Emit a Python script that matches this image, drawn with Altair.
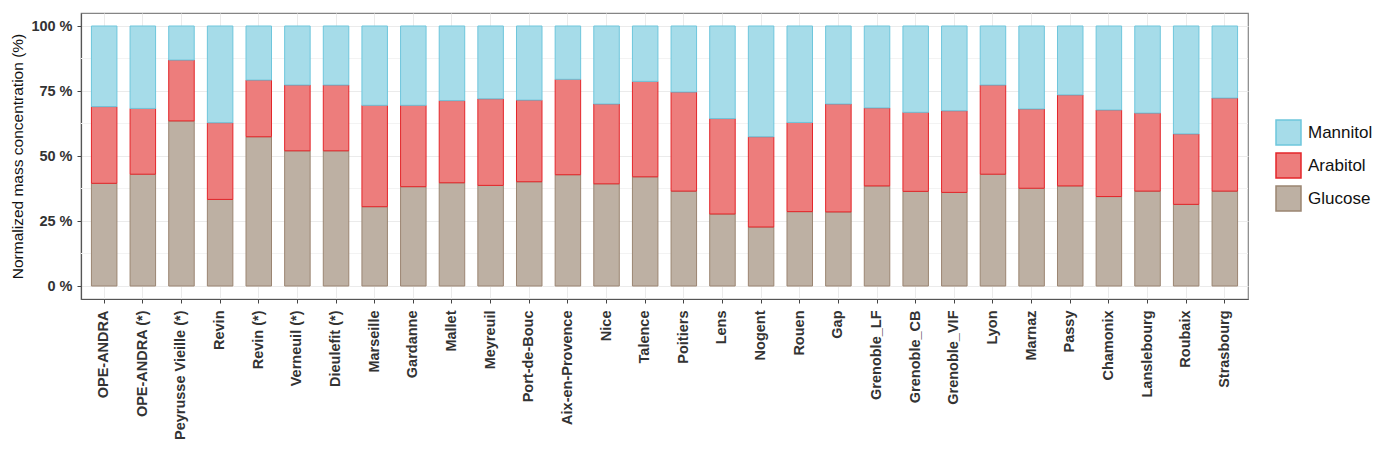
import altair as alt
import pandas as pd

sites = ["OPE-ANDRA", "OPE-ANDRA (*)", "Peyrusse Vieille (*)", "Revin", "Revin (*)",
         "Verneuil (*)", "Dieulefit (*)", "Marseille", "Gardanne", "Mallet", "Meyreuil",
         "Port-de-Bouc", "Aix-en-Provence", "Nice", "Talence", "Poitiers", "Lens", "Nogent",
         "Rouen", "Gap", "Grenoble_LF", "Grenoble_CB", "Grenoble_VIF", "Lyon", "Marnaz",
         "Passy", "Chamonix", "Lanslebourg", "Roubaix", "Strasbourg"]

glucose = [39.5, 43.0, 63.5, 33.3, 57.4, 52.0, 52.0, 30.5, 38.2, 39.7, 38.7, 40.1, 42.8, 39.3,
           42.0, 36.5, 27.7, 22.7, 28.6, 28.5, 38.5, 36.4, 36.0, 43.0, 37.6, 38.5, 34.4, 36.5,
           31.4, 36.5]
arabitol = [29.5, 25.3, 23.4, 29.5, 21.8, 25.3, 25.3, 39.0, 31.3, 31.6, 33.3, 31.4, 36.7, 30.7,
            36.7, 38.1, 36.7, 34.7, 34.3, 41.5, 30.0, 30.4, 31.4, 34.3, 30.5, 35.0, 33.3, 30.0,
            27.1, 35.8]
mannitol = [round(100 - g - a, 1) for g, a in zip(glucose, arabitol)]

compounds = ["Mannitol", "Arabitol", "Glucose"]
fills = ["#a6dce9", "#ed7d7c", "#bdb0a3"]
strokes = ["#6ec6dc", "#e3262a", "#9b8572"]
stack_order = {"Glucose": 0, "Arabitol": 1, "Mannitol": 2}

y_ticks = [0, 25, 50, 75, 100]
y_minor = [12.5, 37.5, 62.5, 87.5]

rows = []
for name, series in [("Glucose", glucose), ("Arabitol", arabitol), ("Mannitol", mannitol)]:
    for s, v in zip(sites, series):
        rows.append({"site": s, "compound": name, "value": v, "ord": stack_order[name]})
df = pd.DataFrame(rows)
minor_df = pd.DataFrame({"v": y_minor})

FONT = "Liberation Sans"
YTITLE = "Normalized mass concentration (%)"
yscale = alt.Scale(domain=[-5, 105], nice=False, zero=False)
y_axis = alt.Axis(values=y_ticks, labelExpr="datum.value + ' %'",
                  labelFont=FONT, labelFontSize=14.5, labelFontWeight="bold",
                  labelColor="#333333", grid=True, gridColor="#ebebeb",
                  domain=True, domainColor="#555555", domainWidth=1.2,
                  tickColor="#444444", tickSize=4, labelPadding=5,
                  titleFont=FONT, titleFontSize=15.5, titleFontWeight="normal",
                  titleColor="#111111", titlePadding=5)

rules = alt.Chart(minor_df).mark_rule(color="#f3f3f3", strokeWidth=1).encode(
    y=alt.Y("v:Q", scale=yscale, title=YTITLE, axis=y_axis)
)

legend = alt.Legend(title=None, orient="none", legendX=1194, legendY=106,
                    symbolType="square", symbolSize=625, symbolStrokeWidth=1.5,
                    labelFont=FONT, labelFontSize=17, labelColor="#111111",
                    labelOffset=6, rowPadding=2, padding=0)

bars = alt.Chart(df).mark_bar(strokeWidth=1, opacity=1).encode(
    x=alt.X("site:N", sort=sites, title=None,
            scale=alt.Scale(paddingInner=0.34, paddingOuter=0.27),
            axis=alt.Axis(labelAngle=-90, labelFont=FONT, labelFontSize=14.5,
                          labelFontWeight="bold", labelColor="#333333",
                          bandPosition=0.5, grid=True, gridColor="#ebebeb",
                          domain=True, domainColor="#555555", domainWidth=1.2,
                          tickColor="#444444", tickSize=4,
                          labelPadding=7)),
    y=alt.Y("value:Q", stack="zero", scale=yscale, title=YTITLE, axis=y_axis),
    fill=alt.Fill("compound:N", scale=alt.Scale(domain=compounds, range=fills), legend=legend),
    stroke=alt.Stroke("compound:N", scale=alt.Scale(domain=compounds, range=strokes),
                      legend=legend),
    order=alt.Order("ord:Q"),
)

chart = alt.layer(rules, bars).properties(
    width=1167, height=286,
    padding={"left": 73, "top": 5, "right": 125, "bottom": 140},
    autosize=alt.AutoSizeParams(type="none"),
).configure(background="white").configure_view(stroke="#858585", strokeWidth=1.2)

chart.save("out.html", embed_options={"renderer": "svg", "actions": False})
